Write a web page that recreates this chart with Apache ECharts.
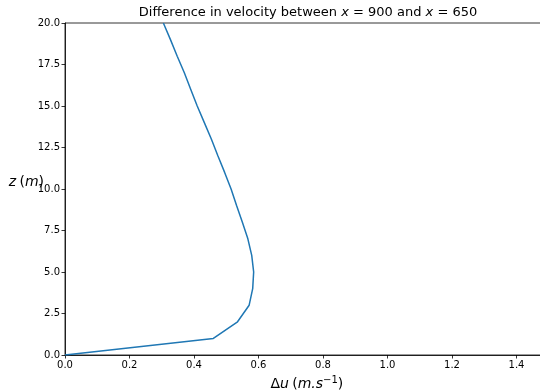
<!DOCTYPE html>
<html>
<head>
<meta charset="utf-8">
<script src="https://cdn.jsdelivr.net/npm/echarts@6/dist/echarts.min.js"></script>
<style>
  html, body { margin: 0; padding: 0; background: #fff; }
  #chart { width: 540px; height: 390px; }
</style>
</head>
<body>
<div id="chart"></div>
<script>
// Height above the ground, z (m)
const heights = [0, 1, 2, 3, 4, 5, 6, 7, 8, 9, 10, 11, 12, 13, 14, 15, 16, 17, 18, 19, 20];
// Velocity difference between x = 900 and x = 650, Δu (m/s)
const deltaU = [0, 0.46, 0.535, 0.571, 0.582, 0.585, 0.579, 0.567, 0.55, 0.532, 0.515,
                0.495, 0.474, 0.454, 0.432, 0.41, 0.39, 0.37, 0.348, 0.327, 0.305];

const font = 'DejaVu Sans';
const chart = echarts.init(document.getElementById('chart'));

chart.setOption({
  animation: false,
  backgroundColor: '#ffffff',
  title: {
    text: 'Difference in velocity between {i|x} = 900 and {i|x} = 650',
    left: 308,
    textAlign: 'center',
    top: 6,
    padding: 0,
    textStyle: {
      fontFamily: font, fontSize: 13, fontWeight: 'normal', color: '#000',
      rich: { i: { fontFamily: font, fontSize: 13, fontStyle: 'italic', color: '#000' } }
    }
  },
  grid: {
    left: 65, top: 23, width: 483.75, height: 332,
    show: true, borderColor: '#000', borderWidth: 0.8, backgroundColor: 'transparent',
    containLabel: false, outerBoundsMode: 'none'
  },
  xAxis: {
    type: 'value',
    min: 0, max: 1.5, interval: 0.2,
    name: '{t|Δ}{i|u} {t|(}{i|m.s}{s|−1}{t|)}',
    nameLocation: 'middle',
    nameGap: 20,
    nameMoveOverlap: false,
    nameTextStyle: {
      rich: {
        t: { fontFamily: font, fontSize: 14, color: '#000' },
        i: { fontFamily: font, fontSize: 14, fontStyle: 'italic', color: '#000' },
        s: { fontFamily: font, fontSize: 10, color: '#000', verticalAlign: 'bottom', padding: [0, 0, 8, 0] }
      }
    },
    axisLine: { show: true, onZero: false, lineStyle: { color: '#000', width: 0.8 } },
    axisTick: { show: true, length: 3.5, lineStyle: { color: '#000', width: 0.8 } },
    axisLabel: {
      showMaxLabel: false, fontFamily: font, fontSize: 10, color: '#000', margin: 5,
      formatter: v => v.toFixed(1)
    },
    splitLine: { show: false }
  },
  yAxis: {
    type: 'value',
    min: 0, max: 20, interval: 2.5,
    name: '{i|z} {t|(}{i|m}{t|)}',
    nameLocation: 'middle',
    nameRotate: 0,
    nameGap: 21,
    nameMoveOverlap: false,
    nameTextStyle: {
      padding: [0, 0, 14, 0],
      rich: {
        t: { fontFamily: font, fontSize: 14, color: '#000' },
        i: { fontFamily: font, fontSize: 14, fontStyle: 'italic', color: '#000' }
      }
    },
    axisLine: { show: true, onZero: false, lineStyle: { color: '#000', width: 0.8 } },
    axisTick: { show: true, length: 3.5, lineStyle: { color: '#000', width: 0.8 } },
    axisLabel: {
      fontFamily: font, fontSize: 10, color: '#000', margin: 5,
      formatter: v => v.toFixed(1)
    },
    splitLine: { show: false }
  },
  series: [{
    type: 'line',
    data: heights.map((z, i) => [deltaU[i], z]),
    showSymbol: false,
    smooth: false,
    clip: true,
    lineStyle: { color: '#1f77b4', width: 1.5 }
  }]
});
</script>
</body>
</html>
